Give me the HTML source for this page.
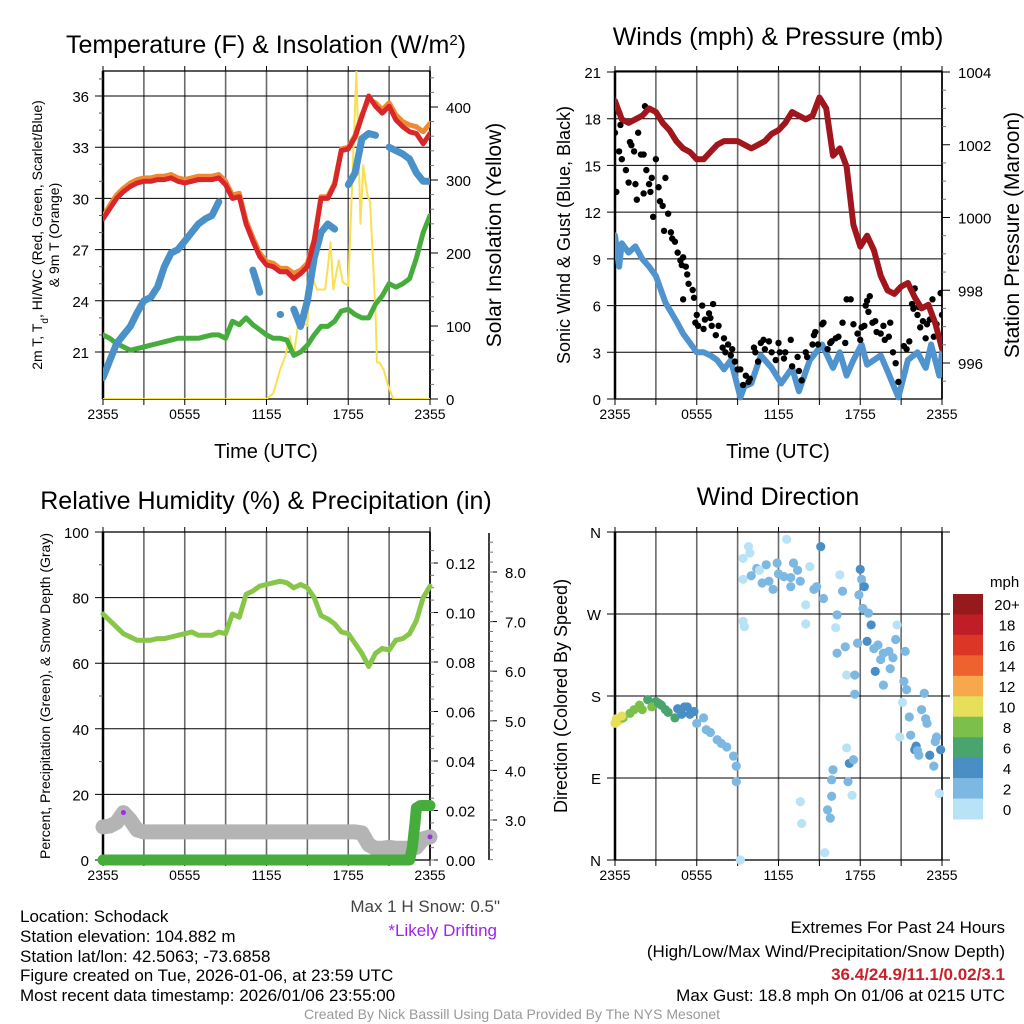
<!DOCTYPE html>
<html><head><meta charset="utf-8">
<style>
html,body{margin:0;padding:0;background:#fff;}
svg{display:block;font-family:"Liberation Sans",sans-serif;}
</style></head>
<body>
<svg id="fig" width="1024" height="1024" viewBox="0 0 1024 1024" xmlns="http://www.w3.org/2000/svg">
<rect width="1024" height="1024" fill="#fff"/>
<g id="layer"></g>
<text x="266" y="53" font-size="25" text-anchor="middle">Temperature (F) &amp; Insolation (W/m<tspan baseline-shift="super" font-size="15">2</tspan>)</text>
<text x="778" y="45" font-size="25" text-anchor="middle">Winds (mph) &amp; Pressure (mb)</text>
<text x="266" y="509" font-size="25" text-anchor="middle">Relative Humidity (%) &amp; Precipitation (in)</text>
<text x="778" y="505" font-size="25" text-anchor="middle">Wind Direction</text>

<text transform="translate(42,235) rotate(-90)" font-size="14" text-anchor="middle">2m T, T<tspan baseline-shift="sub" font-size="10">d</tspan>, HI/WC (Red, Green, Scarlet/Blue)</text>
<text transform="translate(59,235) rotate(-90)" font-size="14" text-anchor="middle">&amp; 9m T (Orange)</text>
<text transform="translate(501,235) rotate(-90)" font-size="21" text-anchor="middle">Solar Insolation (Yellow)</text>
<text transform="translate(570,235) rotate(-90)" font-size="18" text-anchor="middle">Sonic Wind &amp; Gust (Blue, Black)</text>
<text transform="translate(1019,235) rotate(-90)" font-size="21" text-anchor="middle">Station Pressure (Maroon)</text>
<text transform="translate(50,696) rotate(-90)" font-size="14" text-anchor="middle">Percent, Precipitation (Green), &amp; Snow Depth (Gray)</text>
<text transform="translate(567,696) rotate(-90)" font-size="18" text-anchor="middle">Direction (Colored By Speed)</text>

<text x="266" y="458" font-size="20" text-anchor="middle">Time (UTC)</text>
<text x="778" y="458" font-size="20" text-anchor="middle">Time (UTC)</text>

<text x="500" y="912" font-size="17" fill="#444" text-anchor="end">Max 1 H Snow: 0.5"</text>
<text x="497" y="936" font-size="17" fill="#a020f0" text-anchor="end">*Likely Drifting</text>

<g font-size="17">
<text x="20" y="922">Location: Schodack</text>
<text x="20" y="942">Station elevation: 104.882 m</text>
<text x="20" y="962">Station lat/lon: 42.5063; -73.6858</text>
<text x="20" y="981">Figure created on Tue, 2026-01-06, at 23:59 UTC</text>
<text x="20" y="1001">Most recent data timestamp: 2026/01/06 23:55:00</text>
</g>
<g font-size="17" text-anchor="end">
<text x="1005" y="933">Extremes For Past 24 Hours</text>
<text x="1005" y="957">(High/Low/Max Wind/Precipitation/Snow Depth)</text>
<text x="1005" y="980" fill="#c8202a" font-weight="bold">36.4/24.9/11.1/0.02/3.1</text>
<text x="1005" y="1001">Max Gust: 18.8 mph On 01/06 at 0215 UTC</text>
</g>
<text x="512" y="1019" font-size="14" fill="#999" text-anchor="middle">Created By Nick Bassill Using Data Provided By The NYS Mesonet</text>
</svg>
<script>
// ---------- data ----------
const halfHours = [0,0.5,1,1.5,2,2.5,3,3.5,4,4.5,5,5.5,6,6.5,7,7.5,8,8.5,9,9.5,10,10.5,11,11.5,12,12.5,13,13.5,14,14.5,15,15.5,16,16.5,17,17.5,18,18.5,19,19.5,20,20.5,21,21.5,22,22.5,23,23.5,24];
const xTickLabels = ["2355","0555","1155","1755","2355"];
const tempRed = [28.8,29.4,30.0,30.4,30.7,30.9,31.0,31.0,31.1,31.1,31.2,31.0,30.9,31.0,31.1,31.1,31.1,31.2,30.8,30.0,30.1,28.5,27.5,26.6,26.1,26.0,25.7,25.7,25.3,25.6,26.0,27.5,30.0,30.0,30.8,32.8,32.9,33.6,34.8,36.0,35.4,35.0,35.4,34.6,34.2,33.9,33.8,33.2,33.8];
const tempOrange = [28.9,29.6,30.2,30.6,30.9,31.1,31.2,31.2,31.3,31.3,31.4,31.2,31.1,31.2,31.3,31.3,31.3,31.4,31.0,30.2,30.3,28.7,27.7,26.8,26.3,26.2,25.9,25.9,25.6,25.8,26.2,27.6,30.1,30.1,30.9,32.9,33.0,33.7,34.9,35.8,35.6,35.2,35.6,34.9,34.5,34.3,34.2,33.9,34.4];
const tempGreen = [22.0,21.8,21.5,21.3,21.1,21.2,21.3,21.4,21.5,21.6,21.7,21.8,21.8,21.8,21.8,21.9,22.0,22.0,21.8,22.8,22.6,23.0,22.6,22.3,22.0,21.8,21.8,21.7,20.8,21.0,21.4,22.0,22.5,22.5,22.8,23.4,23.5,23.2,23.0,23.0,23.8,24.3,25.0,24.8,25.0,25.3,26.5,28.0,29.0];
const tempBlue = [19.5,20.5,21.5,22.0,22.5,23.3,24.0,24.2,24.8,26.0,26.8,27.0,27.5,28.0,28.5,28.8,29.0,29.8,null,null,null,null,25.8,24.5,null,null,23.2,null,23.5,22.5,24.0,26.5,28.0,28.5,28.2,null,30.8,31.5,33.5,33.8,33.7,null,33.0,32.8,32.6,32.3,31.5,31.0,31.0];
const solarTimes = [0,12,12.5,13,13.4,13.7,14,14.3,14.5,14.7,15,15.2,15.5,15.7,16.3,16.5,16.7,16.9,17.3,17.6,18,18.3,18.6,18.9,19.1,19.4,19.6,20,20.1,20.3,20.6,20.9,21.3,24];
const solarValues = [0,0,8,40,60,86,60,100,110,105,100,175,160,150,150,180,215,150,190,160,155,300,449,240,320,280,270,120,50,50,40,20,0,0];
const windTimes = [0,0.3,0.5,1,1.5,2,2.5,3,3.7,4.5,5,5.5,6,6.5,7,7.5,8,8.5,9.2,9.5,10,10.7,11.5,12.2,13,13.5,14.3,15.2,16,16.5,17,17.5,18.1,18.5,19,19.5,20,20.8,21.5,22.2,22.8,23.2,23.8,24];
const windSpeed = [10.5,8.5,10.0,9.4,9.8,9.0,8.5,7.9,6.2,5.0,4.2,3.6,3.0,3.0,2.8,2.5,1.9,2.5,0.1,0.8,1.0,2.8,2.0,1.0,2.0,0.5,2.5,3.5,2.0,3.0,1.5,2.5,3.5,2.2,2.5,2.8,1.8,0.1,2.5,3.0,2.0,3.5,1.5,3.0];
const pressure = [1003.2,1002.7,1002.6,1002.7,1002.8,1003.0,1002.9,1002.6,1002.4,1002.1,1001.9,1001.8,1001.6,1001.6,1001.8,1002.0,1002.1,1002.1,1002.1,1002.0,1001.9,1002.0,1002.1,1002.3,1002.4,1002.6,1002.9,1002.8,1002.7,1002.8,1003.3,1003.0,1001.7,1001.9,1001.4,999.8,999.2,999.5,999.1,998.4,998.0,997.9,998.1,998.2,997.8,997.5,997.6,997.1,996.4];
const gustTimes = [0,0,0.1,0.3,0.4,0.3,0.5,0.8,1,1.1,1.2,1.4,1.5,1.6,1.7,1.9,2.1,2.2,2.1,2.3,2.5,2.6,2.7,2.8,3.0,3.2,3.3,3.5,3.6,3.7,3.9,4.1,4.2,4.4,4.6,4.8,4.9,5.0,5.2,5.0,5.3,5.4,5.7,5.8,5.9,6.0,6.1,6.4,6.5,6.6,6.9,7.0,7.1,7.2,7.4,7.6,7.9,8.0,8.1,8.3,8.5,8.6,8.8,9.0,9.2,9.4,9.6,9.8,9.9,10.2,10.3,10.5,10.7,10.9,11.0,11.3,11.5,11.8,12.0,12.1,12.4,12.5,12.9,13.0,13.4,13.5,13.7,14.0,14.1,14.5,14.6,14.7,14.9,15.2,15.3,15.6,15.8,15.9,16.2,16.4,16.7,16.9,17.0,17.3,17.5,17.8,18.0,18.1,18.3,18.4,18.5,18.6,18.7,18.9,19.1,19.2,19.5,19.7,19.8,20.1,20.2,20.4,20.6,20.8,21.2,21.4,21.6,21.8,21.9,22.0,22.2,22.3,22.4,22.6,22.8,22.9,23.1,23.3,23.4,23.6,23.9,24];
const gustValues = [18.6,17.1,13.3,18.4,17.6,15.9,15.4,14.7,13.9,16.5,16.3,15.9,13.8,12.8,17.1,15.7,15.7,18.8,13.2,14.7,13.8,13.3,14.2,11.7,15.4,13.6,12.7,12.4,10.8,14.2,11.9,10.7,10.3,10.1,9.4,8.9,8.6,9.1,8.5,6.4,8.0,7.4,7.0,6.5,4.9,5.4,4.7,6.0,4.5,5.1,5.5,5.2,4.7,6.1,4.1,4.7,3.3,3.9,3.0,3.5,2.8,3.2,2.4,1.9,1.9,0.9,1.5,1.1,1.3,3.3,3.0,2.4,3.6,3.8,3.2,3.7,3.0,2.5,3.6,3.0,2.6,3.0,3.8,2.1,2.7,1.8,1.2,3.0,2.7,3.5,4.1,4.3,3.5,4.8,4.9,3.2,3.6,3.7,3.9,4.0,4.9,3.6,6.4,6.4,4.8,4.2,3.8,4.6,4.7,6.0,6.3,5.6,6.6,4.9,5.0,4.3,4.2,4.7,3.8,4.0,4.9,3.0,2.3,1.1,3.4,3.2,3.7,6.1,5.8,7.1,5.4,5.9,4.6,5.0,3.9,4.8,5.1,6.4,4.0,4.8,6.8,5.4];
const rhValues = [75,73,71,69,68,67,67,67,67.5,67.5,68,68.5,69,69.5,68.5,68.5,68.5,69.5,69,75,74,81,82,83.5,84,84.5,85,84.5,83,84,83,80,74.5,73.5,72,69.5,69,66,63,59,63,64.5,64,67,67.5,69,73,80,83.5];
const snowDepth = [2.86,2.88,2.95,3.15,3.0,2.8,2.76,2.76,2.76,2.76,2.76,2.76,2.76,2.76,2.76,2.76,2.76,2.76,2.76,2.76,2.76,2.76,2.76,2.76,2.76,2.76,2.76,2.76,2.76,2.76,2.76,2.76,2.76,2.76,2.76,2.76,2.76,2.76,2.74,2.50,2.43,2.43,2.45,2.43,2.43,2.43,2.45,2.62,2.66];
const precipTimes = [0,22.5,22.7,22.9,23.0,23.3,24];
const precipValues = [0,0,0.005,0.015,0.021,0.022,0.022];
const driftTimes = [1.5,24];
const driftDepth = [3.15,2.66];
const dirTimes = [0,0.2,0.4,0.6,1.1,1.8,2.4,3.0,3.7,4.4,5.3,5.8,6.5,6.7,7.5,8.2,8.7,8.9,8.9,9.2,9.4,9.8,9.9,9.4,9.4,9.5,10.4,10.8,11.1,11.6,11.9,12.4,12.6,13.1,12.9,13.6,14.3,14.6,15.1,15.3,14.0,14.0,16.3,16.7,16.5,16.2,16.3,16.9,17.0,17.6,17.6,17.8,17.9,18.0,18.1,18.2,18.6,18.8,18.5,19.0,19.1,19.5,19.7,20.1,20.6,19.7,20.2,20.7,21.2,21.4,21.3,21.1,20.9,21.6,21.7,22.0,22.3,22.7,22.5,22.9,23.1,23.4,23.6,23.9,23.8,23.5,15.9,15.6,15.8,15.4,13.6,13.7,16.0,15.9,17.0,17.2,17.5,17.1,17.4,1.4,2.7,3.4,4.9,5.1,0.1,0.5,2.0,3.2,3.9,4.6,5.5,6.0,7.0,7.8,10.0,10.6,11.3,12.0,12.9,13.4,14.8,18.3,19.3,20.4,22.1,22.2,22.8];
const dirDegrees = [150,152,154,156,161,170,176,174,165,156,168,163,156,143,132,124,114,103,86,0,331,344,337,308,262,256,320,304,324,297,326,311,352,326,300,306,322,297,344,287,280,259,269,295,313,255,227,234,203,203,182,238,291,319,308,276,271,258,240,232,207,220,227,229,242,192,210,258,196,187,229,173,135,157,137,121,115,183,165,150,115,103,135,121,73,130,70,55,46,8,64,40,99,88,123,106,110,86,71,165,168,170,160,168,155,158,165,172,162,166,160,150,140,128,312,318,306,314,310,318,300,300,236,222,125,120,155];
const dirSpeeds = [10,10.5,10,9,8,8,7,7,7,6,4.5,4.5,3,2.5,2.5,2.5,2.5,2.5,2.5,1,1,1,1,1,1.5,1,2.5,2.5,3,2.5,2.5,2.5,1,2.5,2.5,2.5,1,2.5,4.5,3,1,1,2.5,2.5,1,1,3,3,1,2.5,2.5,3,3,4.5,3,3,3,4.5,4.5,3,4.5,3,3,3,3,3,3,1,3,3,3,1,1,3,3,4.5,3,3,3,3,4.5,3,3,4.5,1,3,3,3,3,1,1,1,3,3,1,4.5,3,3,1,8,9,6,4.5,4.5,10,10,8,7,6,4.5,4.5,3,2.5,2.5,2.5,1,2.5,3,2.5,3,3,4.5,3,3,4.5,3,3];
const cbarLabels = ["20+","18","16","14","12","10","8","6","4","2","0"];
const cbarColors = ["#96191c","#bf1e27","#dc3627","#ee6230","#f6a94a","#e6df5a","#7bc04a","#49a56d","#4a8ec6","#7cb8e2","#b8e3f7"];

// ---------- helpers ----------
const NS="http://www.w3.org/2000/svg";
const layer=document.getElementById('layer');
function el(tag,attrs,parent){const e=document.createElementNS(NS,tag);for(const k in attrs)e.setAttribute(k,attrs[k]);(parent||layer).appendChild(e);return e;}
function lin(d0,d1,r0,r1){return v=>r0+(v-d0)/(d1-d0)*(r1-r0);}
const PL={x0:103,x1:430}, PR={x0:615,x1:942};
const TOP1=71,BOT1=399,TOP2=532,BOT2=860;
const xL=lin(0,24,PL.x0,PL.x1), xR=lin(0,24,PR.x0,PR.x1);

function frame(px,top,bot){
  for(let h=0;h<=24;h+=3){
    const x=px.x0+(px.x1-px.x0)*h/24;
    const g=el('line',{x1:x,x2:x,y1:top,y2:bot,stroke:'#6a6a6a','stroke-width':1.6});
    
    
    el('line',{x1:x,x2:x,y1:top-5,y2:top,stroke:'#000','stroke-width':1});
    el('line',{x1:x,x2:x,y1:bot,y2:bot+6,stroke:'#000','stroke-width':1});
  }
  for(let i=0;i<xTickLabels.length;i++){
    const x=px.x0+(px.x1-px.x0)*i/4;
    const t=el('text',{x:x,y:bot+20,'font-size':14,'text-anchor':'middle'});
    
    
    t.textContent=xTickLabels[i];
  }
  el('rect',{x:px.x0,y:top,width:px.x1-px.x0,height:bot-top,fill:'none',stroke:'#000','stroke-width':1.3});
  el('line',{x1:px.x0,x2:px.x0,y1:top,y2:bot,stroke:'#000','stroke-width':2.5});
}
function hgrid(px,ys,labels,extendR){
  ys.forEach((y,i)=>{
    const l=el('line',{x1:px.x0-8,x2:px.x1+(extendR||0),y1:y,y2:y,stroke:'#000','stroke-width':1});
    
    
    const t=el('text',{x:px.x0-14,y:y+6,'font-size':15,'text-anchor':'end'});
    
    
    t.textContent=labels[i];
  });
}
function rightAxis(x,ys,labels,minors,fs){
  ys.forEach((y,i)=>{
    el('line',{x1:x,x2:x+8,y1:y,y2:y,stroke:'#000','stroke-width':1});
    const t=el('text',{x:x+16,y:y+6,'font-size':fs||15});
    
    
    t.textContent=labels[i];
  });
  minors.forEach(y=>el('line',{x1:x,x2:x+4,y1:y,y2:y,stroke:'#777','stroke-width':1}));
}
function path(xs,ys,xf,yf,attrs,name){
  let d='',run=0,lx=0,ly=0;
  for(let i=0;i<=xs.length;i++){
    const ok=i<xs.length&&ys[i]!==null&&ys[i]!==undefined;
    if(!ok){ if(run===1) d+='L'+(lx+0.5).toFixed(1)+','+ly.toFixed(1); run=0; continue; }
    lx=xf(xs[i]); ly=yf(ys[i]);
    d+=(run?'L':'M')+lx.toFixed(1)+','+ly.toFixed(1); run++;
  }
  const p=el('path',Object.assign({d:d,fill:'none','stroke-linejoin':'round','stroke-linecap':'round'},attrs));
  
  
  return p;
}

// ---------- Panel 1: temperature ----------
const yT=lin(21,36,352,96), yS=lin(0,400,399,107);
const clip1=el('clipPath',{id:'c1'});el('rect',{x:PL.x0,y:TOP1,width:PL.x1-PL.x0,height:BOT1-TOP1},clip1);
frame(PL,TOP1,BOT1);
hgrid(PL,[21,24,27,30,33,36].map(yT),["21","24","27","30","33","36"]);
[22,23,25,26,28,29,31,32,34,35,37].forEach(v=>el('line',{x1:PL.x0-4,x2:PL.x0,y1:yT(v),y2:yT(v),stroke:'#555'}));
el('line',{x1:PL.x1,x2:PL.x1,y1:TOP1,y2:BOT1,stroke:'#000','stroke-width':1.5});
{const m=[];for(let v=0;v<=440;v+=20)if(v%100)m.push(yS(v));rightAxis(PL.x1,[0,100,200,300,400].map(yS),["0","100","200","300","400"],m,15);}
const g1=el('g',{'clip-path':'url(#c1)'});
path(solarTimes,solarValues,xL,yS,{stroke:'#f9e050','stroke-width':2},'solar-insolation-line');g1.appendChild(layer.lastChild);
[[tempGreen,'#46ad3d','dewpoint-line',5],[tempBlue,'#4a90c9','heat-index-windchill-line',7],[tempOrange,'#f08a30','temp-9m-line',5],[tempRed,'#d8262a','temp-2m-line',5]].forEach(s=>{
  path(halfHours,s[0],xL,yT,{stroke:s[1],'stroke-width':s[3]},s[2]);
  g1.appendChild(layer.lastChild);
});

// ---------- Panel 2: winds ----------
const yW=lin(0,21,399,72), yP=lin(996,1004,363,72);
const clip2=el('clipPath',{id:'c2'});el('rect',{x:PR.x0,y:TOP1-2,width:PR.x1-PR.x0,height:BOT1-TOP1+4},clip2);
frame(PR,TOP1,BOT1);
hgrid(PR,[0,3,6,9,12,15,18,21].map(yW),["0","3","6","9","12","15","18","21"]);
el('line',{x1:PR.x1,x2:PR.x1,y1:TOP1,y2:BOT1,stroke:'#000','stroke-width':1.5});
{const m=[];for(let v=995.5;v<=1004;v+=0.5)if(v%2)m.push(yP(v));rightAxis(PR.x1,[996,998,1000,1002,1004].map(yP),["996","998","1000","1002","1004"],m,15);}
const g2=el('g',{'clip-path':'url(#c2)'});
path(windTimes,windSpeed,xR,yW,{stroke:'#4f93cf','stroke-width':6},'sustained-wind-line');g2.appendChild(layer.lastChild);
for(let i=0;i<gustTimes.length;i++){
  const c=el('circle',{cx:xR(gustTimes[i]),cy:yW(gustValues[i]),r:3.2,fill:'#000'},g2);
  
  
}
path(halfHours,pressure,xR,yP,{stroke:'#a0161c','stroke-width':6},'pressure-line');g2.appendChild(layer.lastChild);

// ---------- Panel 3: humidity ----------
const yH=lin(0,100,BOT2,TOP2), yPr=lin(0,0.12,BOT2,563), ySn=lin(3,8,820,572);
frame(PL,TOP2,BOT2);
hgrid(PL,[0,20,40,60,80,100].map(yH),["0","20","40","60","80","100"]);
[10,30,50,70,90].forEach(v=>el('line',{x1:PL.x0-4,x2:PL.x0,y1:yH(v),y2:yH(v),stroke:'#555'}));
el('line',{x1:PL.x1,x2:PL.x1,y1:TOP2,y2:BOT2,stroke:'#000','stroke-width':1.5});
{const m=[];for(let v=0;v<=0.13;v+=0.005)m.push(yPr(v));rightAxis(PL.x1,[0,0.02,0.04,0.06,0.08,0.10,0.12].map(yPr),["0.00","0.02","0.04","0.06","0.08","0.10","0.12"],m,15);}
el('line',{x1:489,x2:489,y1:533,y2:860,stroke:'#000','stroke-width':1.5});
{const m=[];for(let v=2.2;v<=8.8;v+=0.2)m.push(ySn(v));rightAxis(489,[3,4,5,6,7,8].map(ySn),["3.0","4.0","5.0","6.0","7.0","8.0"],m,15);}
path(halfHours,snowDepth,xL,ySn,{stroke:'#b4b4b4','stroke-width':15},'snow-depth-line');
for(let i=0;i<driftTimes.length;i++){
  const c=el('circle',{cx:xL(driftTimes[i]),cy:ySn(driftDepth[i]),r:2.5,fill:'#9b30e6'});
  
  
}
path(precipTimes,precipValues,xL,yPr,{stroke:'#46ad3d','stroke-width':11},'precipitation-line');
path(halfHours,rhValues,xL,yH,{stroke:'#88c64a','stroke-width':5},'relative-humidity-line');

// ---------- Panel 4: wind direction ----------
const yD=lin(0,360,BOT2,TOP2);
frame(PR,TOP2,BOT2);
hgrid(PR,[0,90,180,270,360].map(yD),["N","E","S","W","N"],8);
function spdColor(s){const idx=Math.min(10,Math.floor(s/2));return cbarColors[10-idx];}
const clip4=el('clipPath',{id:'c4'});el('rect',{x:PR.x0-6,y:TOP2-6,width:PR.x1-PR.x0+12,height:BOT2-TOP2+12},clip4);
const g4=el('g',{'clip-path':'url(#c4)'});
for(let i=0;i<dirTimes.length;i++){
  const c=el('circle',{cx:xR(dirTimes[i]),cy:yD(dirDegrees[i]),r:4.6,fill:spdColor(dirSpeeds[i])},g4);
  
  
}
const cbTop=594,cbH=225/11;
const cbt=el('text',{x:990,y:587,'font-size':15});


cbt.textContent='mph';
for(let i=0;i<cbarLabels.length;i++){
  const r=el('rect',{x:953,y:cbTop+i*cbH,width:30,height:cbH+0.5,fill:cbarColors[i]});
  
  
  const t=el('text',{x:1007,y:cbTop+i*cbH+cbH/2+6,'font-size':15,'text-anchor':'middle'});
  
  
  t.textContent=cbarLabels[i];
}
</script>
</body></html>
